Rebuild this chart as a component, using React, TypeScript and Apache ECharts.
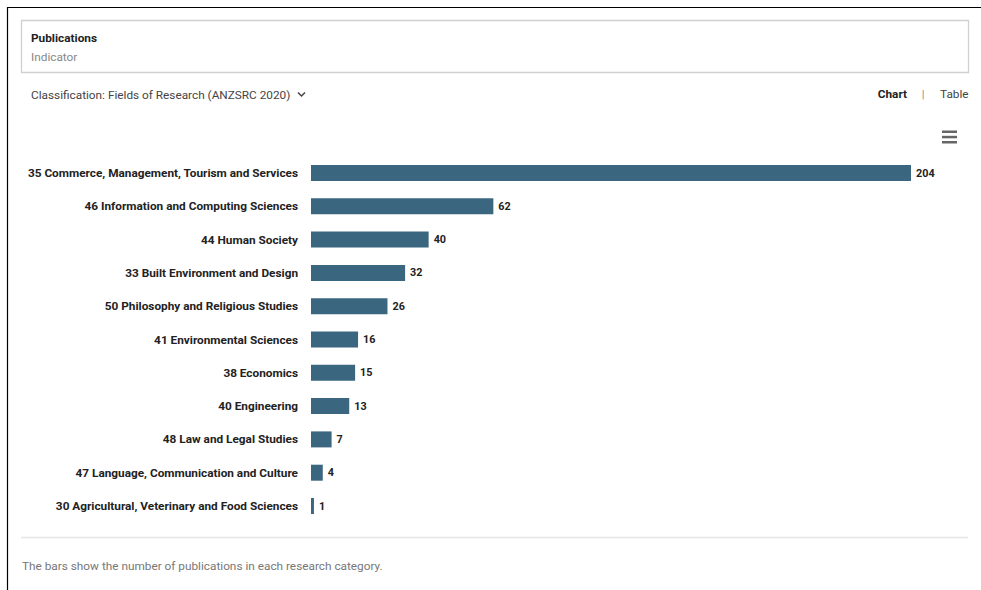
import React, { useEffect, useRef } from "react";
import * as echarts from "echarts";

const categories = [
  "35 Commerce, Management, Tourism and Services",
  "46 Information and Computing Sciences",
  "44 Human Society",
  "33 Built Environment and Design",
  "50 Philosophy and Religious Studies",
  "41 Environmental Sciences",
  "38 Economics",
  "40 Engineering",
  "48 Law and Legal Studies",
  "47 Language, Communication and Culture",
  "30 Agricultural, Veterinary and Food Sciences",
];
const publications = [204, 62, 40, 32, 26, 16, 15, 13, 7, 4, 1];

const FONT = "Roboto, 'Noto Sans', sans-serif";
const FS = 11.8;

export default function App() {
  const ref = useRef<HTMLDivElement>(null);
  useEffect(() => {
    if (!ref.current) return;
    const chart = echarts.init(ref.current, undefined, { renderer: "svg" });
    chart.setOption({
      animation: false,
      textStyle: { fontFamily: FONT },
      grid: { left: 311, right: 70, top: 156.35, bottom: 67.35, containLabel: false },
      xAxis: { type: "value", min: 0, max: 204, show: false },
      yAxis: {
        type: "category",
        data: categories,
        inverse: true,
        axisLine: { show: false },
        axisTick: { show: false },
        splitLine: { show: false },
        axisLabel: {
          margin: 13,
          fontFamily: FONT,
          fontSize: FS,
          fontWeight: "bold",
          color: "#222",
          padding: [2, 0, 0, 0],
        },
      },
      series: [
        {
          type: "bar",
          data: publications,
          barWidth: 16,
          itemStyle: { color: "#3b6680" },
          label: {
            show: true,
            position: "right",
            distance: 5,
            fontFamily: FONT,
            fontSize: 10.8,
            fontWeight: "bold",
            color: "#222",
            padding: [2, 0, 0, 0],
          },
        },
      ],
      graphic: [
        { type: "line", shape: { x1: 7, y1: 7.5, x2: 981, y2: 7.5 }, style: { stroke: "#000", lineWidth: 1.2 } },
        { type: "line", shape: { x1: 7.5, y1: 7, x2: 7.5, y2: 590 }, style: { stroke: "#000", lineWidth: 1.2 } },
        { type: "rect", shape: { x: 21.5, y: 20.5, width: 947, height: 52 }, style: { fill: "none", stroke: "#d0d0d0", lineWidth: 1.3 } },
        { type: "text", x: 31, y: 38, style: { text: "Publications", font: `bold ${FS}px ${FONT}`, fill: "#222", verticalAlign: "middle" } },
        { type: "text", x: 31, y: 57, style: { text: "Indicator", font: `${FS}px ${FONT}`, fill: "#888", verticalAlign: "middle" } },
        { type: "text", x: 31, y: 95, style: { text: "Classification: Fields of Research (ANZSRC 2020)", font: `${FS}px ${FONT}`, fill: "#444", verticalAlign: "middle" } },
        { type: "polyline", shape: { points: [[298, 92.5], [301.5, 96], [305, 92.5]] }, style: { stroke: "#444", lineWidth: 1.5, fill: "none" } },
        { type: "text", x: 907, y: 94, style: { text: "Chart", font: `bold ${FS}px ${FONT}`, fill: "#222", align: "right", verticalAlign: "middle" } },
        { type: "text", x: 923, y: 94, style: { text: "|", font: `11px ${FONT}`, fill: "#888", align: "center", verticalAlign: "middle" } },
        { type: "text", x: 940, y: 94, style: { text: "Table", font: `${FS}px ${FONT}`, fill: "#444", verticalAlign: "middle" } },
        { type: "rect", shape: { x: 942, y: 130.5, width: 15, height: 2.5 }, style: { fill: "#666" } },
        { type: "rect", shape: { x: 942, y: 135.8, width: 15, height: 2.5 }, style: { fill: "#666" } },
        { type: "rect", shape: { x: 942, y: 141, width: 15, height: 2.5 }, style: { fill: "#666" } },
        { type: "line", shape: { x1: 21, y1: 537.5, x2: 968, y2: 537.5 }, style: { stroke: "#e6e6e6", lineWidth: 1.3 } },
        { type: "text", x: 22, y: 566, style: { text: "The bars show the number of publications in each research category.", font: `${FS}px ${FONT}`, fill: "#777", verticalAlign: "middle" } },
      ],
    });
    return () => chart.dispose();
  }, []);
  return (
    <div
      ref={ref}
      style={{ position: "fixed", left: 0, top: 0, width: 981, height: 590, background: "#fff" }}
    />
  );
}
